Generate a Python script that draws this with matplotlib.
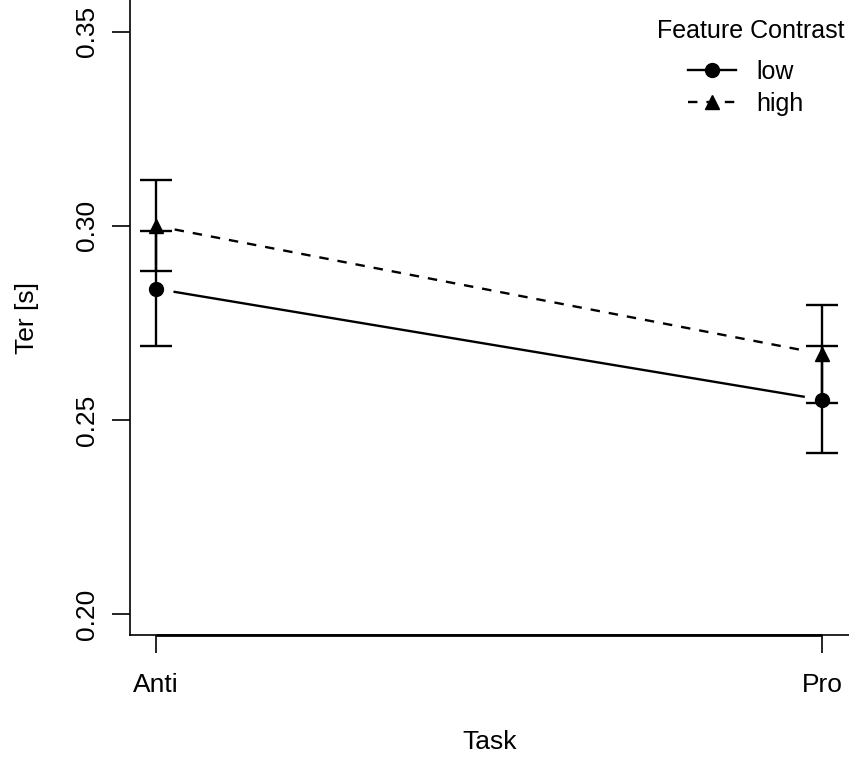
import matplotlib.pyplot as plt
import numpy as np

plt.rcParams["font.family"] = ["Liberation Sans", "DejaVu Sans"]

tasks = ["Anti", "Pro"]
low_mean = [0.2838, 0.2552]
low_err = [0.0148, 0.0138]
high_mean = [0.3000, 0.2670]
high_err = [0.0117, 0.0126]

x = np.arange(1, len(tasks) + 1)

fig = plt.figure(figsize=(8.49, 7.58), dpi=100)
ax = fig.add_axes([130 / 849, 1 - 635 / 758, 1 - 130 / 849, 635 / 758])

LW = 1.7
DASH = (0, (4, 3.8))


def gapped(xs, ys, gap=0.028):
    # R type="b": line stops short of each point
    xs = np.asarray(xs, float)
    ys = np.asarray(ys, float)
    t0, t1 = gap, 1 - gap
    return ([xs[0] + t0 * (xs[1] - xs[0]), xs[0] + t1 * (xs[1] - xs[0])],
            [ys[0] + t0 * (ys[1] - ys[0]), ys[0] + t1 * (ys[1] - ys[0])])


lx, ly = gapped(x, low_mean)
hx, hy = gapped(x, high_mean)
ax.plot(lx, ly, color="black", lw=LW, ls="-")
ax.plot(hx, hy, color="black", lw=LW, ls=DASH)

ax.errorbar(x, low_mean, yerr=low_err, fmt="none", ecolor="black",
            elinewidth=LW, capsize=11.5, capthick=LW)
ax.errorbar(x, high_mean, yerr=high_err, fmt="none", ecolor="black",
            elinewidth=LW, capsize=11.5, capthick=LW)
ax.plot(x, low_mean, ls="none", marker="o", ms=10, color="black")
ax.plot(x, high_mean, ls="none", marker="^", ms=10, color="black")

# legend, title drawn separately so it can sit higher
h_low, = ax.plot([], [], color="black", lw=LW, marker="o", ms=10, label="low")
h_high, = ax.plot([], [], color="black", lw=LW, ls=DASH,
                  marker="^", ms=10, label="high")
ax.legend(handles=[h_low, h_high], loc="upper left", frameon=False,
          fontsize=18, handlelength=1.9, handletextpad=0.85,
          labelspacing=0.3, borderpad=0, borderaxespad=0,
          bbox_to_anchor=(688 / 849, 1 - 60 / 758),
          bbox_transform=fig.transFigure)
fig.text(751 / 849, 1 - 31 / 758, "Feature Contrast", fontsize=18,
         ha="center", va="center")

ax.set_xlim(0.961, 2.04)
ax.set_ylim(0.1946, 0.3582)
ax.set_xticks(x)
ax.set_xticklabels(tasks)
ax.set_yticks([0.20, 0.25, 0.30, 0.35])
ax.set_yticklabels(["0.20", "0.25", "0.30", "0.35"], rotation=90, va="center")
ax.tick_params(axis="both", length=13, width=1.2, labelsize=19)
ax.tick_params(axis="x", pad=14)
ax.tick_params(axis="y", pad=9)
for side in ["top", "right"]:
    ax.spines[side].set_visible(False)
for side in ["left", "bottom"]:
    ax.spines[side].set_linewidth(1.2)
# axis line between the outer ticks, drawn over the box
ax.plot([x[0], x[-1]], [0, 0], transform=ax.get_xaxis_transform(),
        color="black", lw=2.0, clip_on=False, solid_capstyle="butt")

ax.set_xlabel("Task", fontsize=19, labelpad=24)
ax.set_ylabel("Ter [s]", fontsize=19, labelpad=26)

fig.savefig("out.png", dpi=100)
